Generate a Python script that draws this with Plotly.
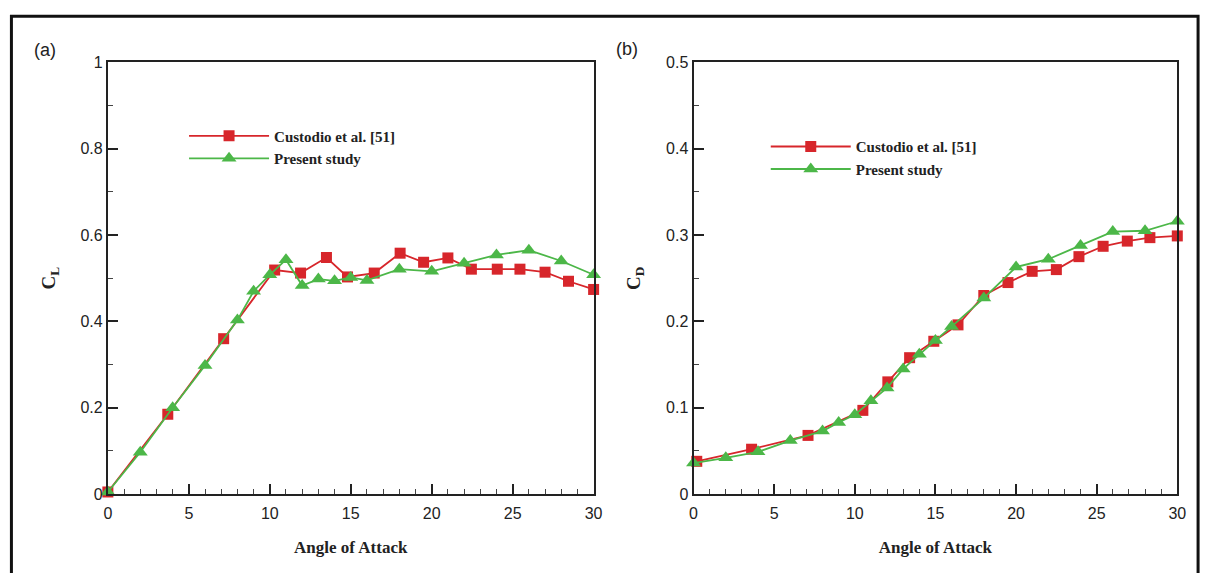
import plotly.graph_objects as go

# ---- data ----
cl_ref_aoa = [0, 3.7, 7.15, 10.3, 11.9, 13.5, 14.8, 16.45, 18.05, 19.5, 21.0, 22.45, 24.05, 25.45, 27.0, 28.45, 30.0]
cl_ref_val = [0.005, 0.185, 0.360, 0.519, 0.512, 0.548, 0.503, 0.512, 0.558, 0.537, 0.547, 0.521, 0.521, 0.521, 0.514, 0.493, 0.474]

cl_pre_aoa = [0, 2, 4, 6, 8, 9, 10, 11, 12, 13, 14, 15, 16, 18, 20, 22, 24, 26, 28, 30]
cl_pre_val = [0.005, 0.097, 0.200, 0.298, 0.403, 0.470, 0.508, 0.543, 0.483, 0.498, 0.494, 0.502, 0.495, 0.521, 0.516, 0.535, 0.554, 0.565, 0.540, 0.508]

cd_ref_aoa = [0.2, 3.6, 7.1, 10.5, 12.05, 13.4, 14.9, 16.4, 18.0, 19.5, 21.0, 22.5, 23.9, 25.4, 26.9, 28.3, 30.0]
cd_ref_val = [0.038, 0.052, 0.068, 0.097, 0.130, 0.158, 0.177, 0.196, 0.230, 0.245, 0.258, 0.260, 0.275, 0.287, 0.293, 0.297, 0.299]

cd_pre_aoa = [0, 2, 4, 6, 8, 9, 10, 11, 12, 13, 14, 15, 16, 18, 20, 22, 24, 26, 28, 30]
cd_pre_val = [0.036, 0.042, 0.049, 0.062, 0.073, 0.083, 0.092, 0.108, 0.123, 0.145, 0.162, 0.178, 0.194, 0.227, 0.263, 0.272, 0.288, 0.304, 0.305, 0.316]

series_names = ["Custodio et al. [51]", "Present study"]
x_title = "Angle of Attack"

RED = "#d7262b"
GREEN = "#4cb748"

W, H = 1214, 573


def fx(p):
    return p / W


def fy(p):
    return 1 - p / H


fig = go.Figure()
line_w = 1.8

fig.add_trace(go.Scatter(x=cl_ref_aoa, y=cl_ref_val, name=series_names[0], mode="lines+markers",
                         line=dict(color=RED, width=line_w), marker=dict(symbol="square", size=11, color=RED),
                         cliponaxis=False, xaxis="x", yaxis="y", legend="legend"))
fig.add_trace(go.Scatter(x=cl_pre_aoa, y=cl_pre_val, name=series_names[1], mode="lines+markers",
                         line=dict(color=GREEN, width=line_w), marker=dict(symbol="triangle-up", size=13, color=GREEN),
                         cliponaxis=False, xaxis="x", yaxis="y", legend="legend"))
fig.add_trace(go.Scatter(x=cd_ref_aoa, y=cd_ref_val, name=series_names[0], mode="lines+markers",
                         line=dict(color=RED, width=line_w), marker=dict(symbol="square", size=11, color=RED),
                         cliponaxis=False, xaxis="x2", yaxis="y2", legend="legend2"))
fig.add_trace(go.Scatter(x=cd_pre_aoa, y=cd_pre_val, name=series_names[1], mode="lines+markers",
                         line=dict(color=GREEN, width=line_w), marker=dict(symbol="triangle-up", size=13, color=GREEN),
                         cliponaxis=False, xaxis="x2", yaxis="y2", legend="legend2"))

tick_font = dict(family="Liberation Sans, Arial, sans-serif", size=16, color="#222")
title_font = dict(family="Liberation Serif, Times New Roman, serif", size=17, color="#222")


def xaxis(domain, anchor):
    return dict(domain=domain, range=[0, 30], dtick=5, tick0=0, anchor=anchor,
                ticks="inside", ticklen=10, tickwidth=1.5, tickcolor="#222",
                minor=dict(dtick=1, ticks="inside", ticklen=5, tickwidth=1, tickcolor="#444"),
                showline=True, linecolor="#222", linewidth=2, mirror=True,
                showgrid=False, zeroline=False, tickfont=tick_font, ticklabelstandoff=4,
                title=dict(text="<b>" + x_title + "</b>", font=title_font, standoff=20))


def yaxis(domain, rng, dt, anchor, title):
    return dict(domain=domain, range=rng, dtick=dt, tick0=0, anchor=anchor,
                ticks="inside", ticklen=10, tickwidth=1.5, tickcolor="#222",
                minor=dict(dtick=dt / 2, ticks="inside", ticklen=5, tickwidth=1, tickcolor="#444"),
                showline=True, linecolor="#222", linewidth=2, mirror=True,
                showgrid=False, zeroline=False, tickfont=tick_font,
                title=dict(text=title, font=dict(family="Liberation Serif, Times New Roman, serif",
                                                 size=19, color="#222"), standoff=20))


ydom = [fy(501), fy(56)]
legend_font = dict(family="Liberation Serif, Times New Roman, serif", size=15, color="#222", weight="bold")
label_font = dict(family="Liberation Sans, Arial, sans-serif", size=18, color="#222")

fig.update_layout(
    width=W, height=H, autosize=False,
    margin=dict(l=0, r=0, t=0, b=0),
    paper_bgcolor="white", plot_bgcolor="white",
    xaxis=xaxis([fx(105), fx(596)], "y"),
    xaxis2=xaxis([fx(697), fx(1186)], "y2"),
    yaxis=yaxis(ydom, [0, 1], 0.2, "x", "<b>C<sub>L</sub></b>"),
    yaxis2=yaxis(ydom, [0, 0.5], 0.1, "x2", "<b>C<sub>D</sub></b>"),
    legend=dict(x=fx(182), y=fy(115), xanchor="left", yanchor="top",
                font=legend_font, itemwidth=80, bgcolor="rgba(0,0,0,0)", tracegroupgap=0),
    legend2=dict(x=fx(770), y=fy(126), xanchor="left", yanchor="top",
                 font=legend_font, itemwidth=80, bgcolor="rgba(0,0,0,0)", tracegroupgap=0),
    showlegend=True,
    shapes=[dict(type="rect", xref="paper", yref="paper",
                 x0=fx(7.5), x1=fx(1207), y0=fy(600), y1=fy(8.5),
                 line=dict(color="#111", width=3), fillcolor="rgba(0,0,0,0)", layer="below")],
    annotations=[
        dict(text="(a)", xref="paper", yref="paper", x=fx(41), y=fy(43), showarrow=False,
             xanchor="center", yanchor="middle", font=label_font),
        dict(text="(b)", xref="paper", yref="paper", x=fx(630), y=fy(42), showarrow=False,
             xanchor="center", yanchor="middle", font=label_font),
    ],
)

fig.write_html("out.html", config={"displayModeBar": False},
               post_script="document.body.style.margin='0';document.body.style.overflow='hidden';")
